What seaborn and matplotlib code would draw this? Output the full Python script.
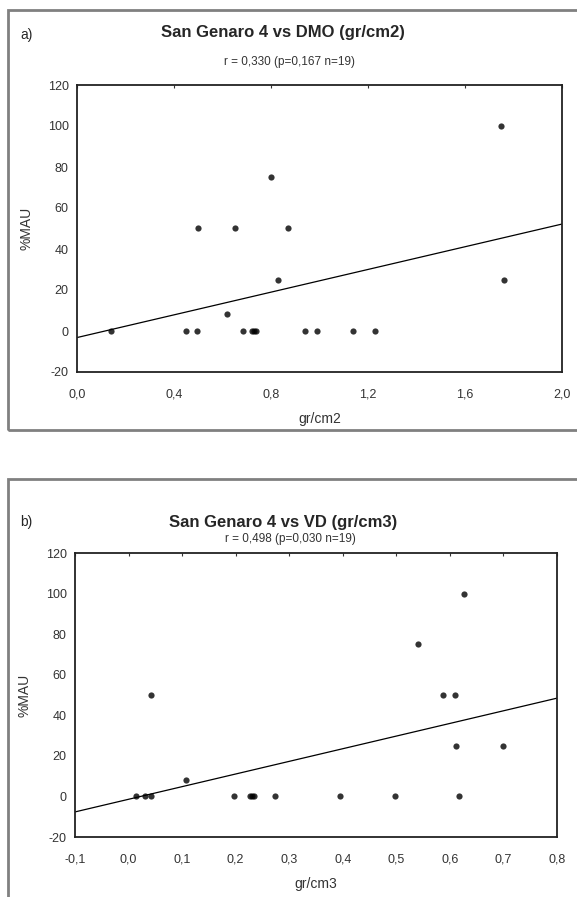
import numpy as np
import pandas as pd
import seaborn as sns
import matplotlib
matplotlib.use("Agg")
import matplotlib.pyplot as plt
from matplotlib.patches import Rectangle
from matplotlib.ticker import FuncFormatter, MultipleLocator

# a) DMO (gr/cm2) vs %MAU
dmo = [0.14, 0.45, 0.495, 0.685, 0.72, 0.73, 0.74, 0.94, 0.99, 1.14, 1.23,
       0.62, 0.83, 1.76, 0.50, 0.65, 0.87, 0.80, 1.75]
mau_a = [0, 0, 0, 0, 0, 0, 0, 0, 0, 0, 0,
         8.3, 25, 25, 50, 50, 50, 75, 100]

# b) VD (gr/cm3) vs %MAU
vd = [0.014, 0.031, 0.041, 0.196, 0.226, 0.230, 0.234, 0.274, 0.395, 0.498, 0.617,
      0.107, 0.611, 0.700, 0.041, 0.588, 0.610, 0.541, 0.626]
mau_b = [0, 0, 0, 0, 0, 0, 0, 0, 0, 0, 0,
         8.3, 25, 25, 50, 50, 50, 75, 100]

df_a = pd.DataFrame({"x": dmo, "y": mau_a})
df_b = pd.DataFrame({"x": vd, "y": mau_b})

sns.set_style("white")
plt.rcParams["font.family"] = ["Liberation Sans", "DejaVu Sans"]
plt.rcParams["axes.unicode_minus"] = False

fig = plt.figure(figsize=(5.77, 8.97), dpi=100)
W, H = 577, 897


def fx(px):
    return px / W


def fy(py):
    return 1 - py / H


comma = FuncFormatter(lambda v, p: f"{v:.1f}".replace(".", ","))

# marcos grises de cada panel
fig.patches.append(Rectangle((fx(8), fy(430)), fx(600) - fx(8), fy(10) - fy(430),
                             transform=fig.transFigure, fill=False,
                             edgecolor="#808080", lw=2))
fig.patches.append(Rectangle((fx(8), fy(910)), fx(600) - fx(8), fy(479) - fy(910),
                             transform=fig.transFigure, fill=False,
                             edgecolor="#808080", lw=2))

paneles = [
    (df_a, [fx(77), fy(372), fx(562) - fx(77), fy(85) - fy(372)], (0, 2.0), 0.4,
     "a)", "San Genaro 4 vs DMO (gr/cm2)", "r = 0,330 (p=0,167 n=19)", "gr/cm2",
     (33, 62, 35)),
    (df_b, [fx(75), fy(837), fx(557) - fx(75), fy(553) - fy(837)], (-0.1, 0.8), 0.1,
     "b)", "San Genaro 4 vs VD (gr/cm3)", "r = 0,498 (p=0,030 n=19)", "gr/cm3",
     (523, 539, 522)),
]

for df, pos, xlim, paso, letra, titulo, sub, xlab, ys in paneles:
    ax = fig.add_axes(pos)
    ax.set_xlim(*xlim)
    ax.set_ylim(-20, 120)
    sns.regplot(data=df, x="x", y="y", ax=ax, ci=None, truncate=False,
                scatter_kws={"s": 20, "color": "black", "linewidths": 0},
                line_kws={"color": "black", "lw": 0.9})
    ax.set_xlim(*xlim)
    ax.set_ylim(-20, 120)
    ax.xaxis.set_major_locator(MultipleLocator(paso))
    ax.yaxis.set_major_locator(MultipleLocator(20))
    ax.xaxis.set_major_formatter(comma)
    ax.tick_params(direction="in", length=2, labelsize=9, colors="#333333",
                   top=True)
    ax.tick_params(axis="x", pad=12)
    ax.tick_params(axis="y", pad=6)
    for s in ax.spines.values():
        s.set_color("#222222")
        s.set_linewidth(1.3)
    ax.set_xlabel(xlab, fontsize=10, color="#333333", labelpad=8)
    ax.set_ylabel("%MAU", fontsize=10, color="#333333", labelpad=10)
    t_y, s_y, l_y = ys
    fig.text(fx(283), fy(t_y), titulo, ha="center", va="center",
             fontsize=12, fontweight="bold")
    fig.text(fx(290), fy(s_y), sub, ha="center", va="center", fontsize=8.5,
             color="#333333")
    fig.text(fx(20), fy(l_y), letra, ha="left", va="center", fontsize=10)

fig.savefig("out.png", dpi=100)
